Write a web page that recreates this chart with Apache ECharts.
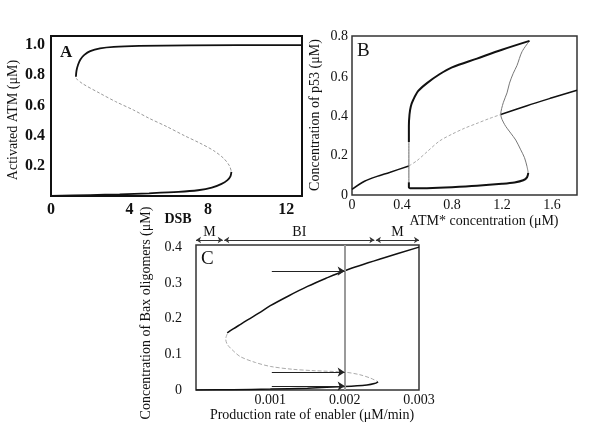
<!DOCTYPE html>
<html>
<head>
<meta charset="utf-8">
<script src="https://cdn.jsdelivr.net/npm/echarts@6/dist/echarts.min.js"></script>
<style>
  html, body { margin: 0; padding: 0; background: #fff; }
  #chart { width: 600px; height: 430px; }
</style>
</head>
<body>
<div id="chart"></div>
<script>
// Panel A: activated ATM vs DSB
const aUpperStable = [[1.27,0.79],[1.3,0.83],[1.38,0.87],[1.5,0.905],[1.7,0.935],[2.0,0.96],[2.5,0.978],[3.2,0.988],[4.5,0.994],[7,0.998],[12.8,1.0]];
const aUnstable = [[1.27,0.78],[1.6,0.745],[2.5,0.68],[3.3,0.625],[4.2,0.57],[5.0,0.515],[5.9,0.46],[6.8,0.4],[7.6,0.35],[8.3,0.3],[8.8,0.25],[9.1,0.2],[9.2,0.16]];
const aLowerStable = [[9.2,0.16],[9.15,0.13],[9.0,0.105],[8.7,0.08],[8.2,0.055],[7.5,0.038],[6.5,0.027],[5,0.018],[3.5,0.011],[2,0.006],[0,0.0]];

// Panel B: p53 vs ATM*
const bLineLow = [[0,0.029],[0.1,0.07],[0.2,0.095],[0.3,0.115],[0.455,0.148]];
const bLineMid = [[0.455,0.148],[0.52,0.175],[0.6,0.22],[0.7,0.275],[0.8,0.31],[0.9,0.34],[1.0,0.365],[1.1,0.39],[1.19,0.41]];
const bLineHigh = [[1.19,0.41],[1.4,0.455],[1.6,0.495],[1.8,0.534]];
const bLoopLower = [[0.455,0.065],[0.455,0.04],[0.47,0.034],[0.6,0.035],[0.8,0.04],[1.0,0.047],[1.2,0.057],[1.3,0.064],[1.37,0.075],[1.4,0.09],[1.41,0.113]];
const bLoopUnstable = [[1.41,0.113],[1.40,0.145],[1.38,0.19],[1.35,0.23],[1.31,0.28],[1.27,0.315],[1.22,0.36],[1.19,0.41],[1.21,0.47],[1.24,0.52],[1.26,0.57],[1.29,0.62],[1.32,0.66],[1.36,0.73],[1.42,0.785]];
const bLoopUpper = [[1.42,0.785],[1.2,0.74],[1.0,0.695],[0.8,0.65],[0.7,0.615],[0.6,0.57],[0.53,0.53],[0.49,0.485],[0.47,0.45],[0.46,0.41],[0.455,0.35],[0.455,0.27]];
const bLoopThin = [[0.455,0.27],[0.455,0.065]];

// Panel C: Bax oligomers vs enabler production rate
const cUpper = [[0.003,0.4],[0.0025,0.368],[0.002,0.334],[0.00175,0.313],[0.0015,0.29],[0.00125,0.264],[0.001,0.236],[0.00085,0.216],[0.0007,0.197],[0.0006,0.184],[0.0005,0.171],[0.00042,0.16]];
const cUnstable = [[0.00042,0.157],[0.0004,0.143],[0.00042,0.128],[0.0005,0.11],[0.0006,0.093],[0.0008,0.077],[0.001,0.066],[0.0013,0.058],[0.0016,0.054],[0.002,0.05],[0.0022,0.043],[0.00235,0.033],[0.00245,0.023]];
const cLower = [[0.00245,0.023],[0.0024,0.018],[0.0023,0.014],[0.002,0.0095],[0.0015,0.005],[0.001,0.0025],[0.0005,0.001],[0,0]];
const cSignal = 0.002;
const cArrowFrom = 0.00102;
const cArrowY = [0.333, 0.05, 0.011];
const zoneNames = ['M', 'BI', 'M'];
const zoneBounds = [[0, 0.00036], [0.00038, 0.0024], [0.00242, 0.003]];

const serif = 'Liberation Serif';
const chart = echarts.init(document.getElementById('chart'));

function line(x, y, data, color, width, type) {
  return {
    type: 'line', xAxisIndex: x, yAxisIndex: y, data: data,
    showSymbol: false, smooth: 0.3, silent: true,
    lineStyle: { color: color, width: width, type: type || 'solid' }
  };
}

function valueAxis(grid, min, max, interval, fmt, labelStyle) {
  return {
    type: 'value', gridIndex: grid, min: min, max: max, interval: interval,
    axisLine: { show: false }, axisTick: { show: false }, splitLine: { show: false },
    axisLabel: Object.assign({ formatter: fmt, showMaxLabel: false, fontFamily: serif, color: '#111' }, labelStyle)
  };
}

const boldLbl = { fontSize: 16, fontWeight: 'bold', margin: 6 };
const normLbl = { fontSize: 14, margin: 4 };

chart.setOption({
  animation: false,
  grid: [
    { left: 51, top: 36, width: 251, height: 160, show: true, borderColor: '#111', borderWidth: 2 },
    { left: 352, top: 36, width: 225, height: 159, show: true, borderColor: '#333', borderWidth: 1.5 },
    { left: 196, top: 245, width: 223, height: 145, show: true, borderColor: '#333', borderWidth: 1.5 },
    { left: 196, top: 228, width: 223, height: 12, show: false }
  ],
  xAxis: [
    valueAxis(0, 0, 12.8, 2, v => (v % 4 === 0 ? String(v) : ''), boldLbl),
    valueAxis(1, 0, 1.8, 0.4, v => (v === 0 ? '0' : v.toFixed(1)), { fontSize: 14, margin: 3 }),
    valueAxis(2, 0, 0.003, 0.001, v => (v === 0 ? '' : v.toFixed(3)), { fontSize: 14, margin: 3, showMaxLabel: true }),
    { type: 'value', gridIndex: 3, min: 0, max: 0.003, show: false }
  ],
  yAxis: [
    valueAxis(0, 0, 1.06, 0.2, v => (v === 0 ? '' : v.toFixed(1)), boldLbl),
    valueAxis(1, 0, 0.81, 0.2, v => (v === 0 ? '0' : v.toFixed(1)), Object.assign({}, normLbl, { showMaxLabel: true })),
    valueAxis(2, 0, 0.406, 0.1, v => (v === 0 ? '0' : v.toFixed(1)), { fontSize: 14, margin: 14 }),
    { type: 'value', gridIndex: 3, min: 0, max: 1, show: false }
  ],
  series: [
    line(0, 0, aUpperStable, '#111', 1.8),
    line(0, 0, aUnstable, '#999', 1, [3, 2]),
    line(0, 0, aLowerStable, '#111', 1.8),

    line(1, 1, bLineLow, '#111', 1.5),
    line(1, 1, bLineMid, '#aaa', 1, [3, 2]),
    line(1, 1, bLineHigh, '#111', 1.5),
    line(1, 1, bLoopLower, '#111', 2),
    line(1, 1, bLoopUnstable, '#777', 1),
    line(1, 1, bLoopUpper, '#111', 2),
    line(1, 1, bLoopThin, '#666', 1),

    line(2, 2, cUpper, '#111', 1.5),
    line(2, 2, cUnstable, '#aaa', 1, [4, 2]),
    line(2, 2, cLower, '#111', 1.5),
    {
      type: 'line', xAxisIndex: 2, yAxisIndex: 2, data: [], silent: true,
      markLine: {
        silent: true, symbol: ['none', 'none'], label: { show: false },
        lineStyle: { color: '#9a9a9a', width: 2, type: 'solid' },
        data: [[{ coord: [cSignal, 0] }, { coord: [cSignal, 0.406] }]]
      }
    },
    {
      type: 'line', xAxisIndex: 2, yAxisIndex: 2, data: [], silent: true,
      markLine: {
        silent: true, symbol: ['none', 'arrow'], symbolSize: 7, label: { show: false },
        lineStyle: { color: '#222', width: 1, type: 'solid' },
        data: cArrowY.map(y => [{ coord: [cArrowFrom, y] }, { coord: [cSignal, y] }])
      }
    },
    {
      type: 'line', xAxisIndex: 3, yAxisIndex: 3, data: [], silent: true,
      markLine: {
        silent: true, symbol: ['arrow', 'arrow'], symbolSize: 5,
        lineStyle: { color: '#333', width: 1, type: 'solid' },
        label: { show: true, position: 'middle', distance: 1, fontFamily: serif, fontSize: 14, color: '#111' },
        data: zoneBounds.map((b, i) => [{ coord: [b[0], 0], name: zoneNames[i] }, { coord: [b[1], 0] }])
      }
    }
  ],
  graphic: [
    { type: 'text', left: 60, top: 44, style: { text: 'A', font: 'bold 17px "Liberation Serif"', fill: '#111' } },
    { type: 'text', left: 357, top: 42, style: { text: 'B', font: '19px "Liberation Serif"', fill: '#111' } },
    { type: 'text', left: 201, top: 250, style: { text: 'C', font: '19px "Liberation Serif"', fill: '#111' } },
    { type: 'text', x: 13, y: 120, rotation: Math.PI / 2, style: { text: 'Activated ATM (\u03bcM)', font: '14px "Liberation Serif"', fill: '#111', align: 'center', verticalAlign: 'middle' } },
    { type: 'text', x: 315, y: 115, rotation: Math.PI / 2, style: { text: 'Concentration of p53 (\u03bcM)', font: '14px "Liberation Serif"', fill: '#111', align: 'center', verticalAlign: 'middle' } },
    { type: 'text', x: 146, y: 313, rotation: Math.PI / 2, style: { text: 'Concentration of Bax oligomers (\u03bcM)', font: '14px "Liberation Serif"', fill: '#111', align: 'center', verticalAlign: 'middle' } },
    { type: 'text', x: 178, y: 219, style: { text: 'DSB', font: 'bold 14px "Liberation Serif"', fill: '#111', align: 'center', verticalAlign: 'middle' } },
    { type: 'text', x: 484, y: 221, style: { text: 'ATM* concentration (\u03bcM)', font: '14px "Liberation Serif"', fill: '#111', align: 'center', verticalAlign: 'middle' } },
    { type: 'text', x: 312, y: 415, style: { text: 'Production rate of enabler (\u03bcM/min)', font: '14px "Liberation Serif"', fill: '#111', align: 'center', verticalAlign: 'middle' } }
  ]
});
</script>
</body>
</html>
